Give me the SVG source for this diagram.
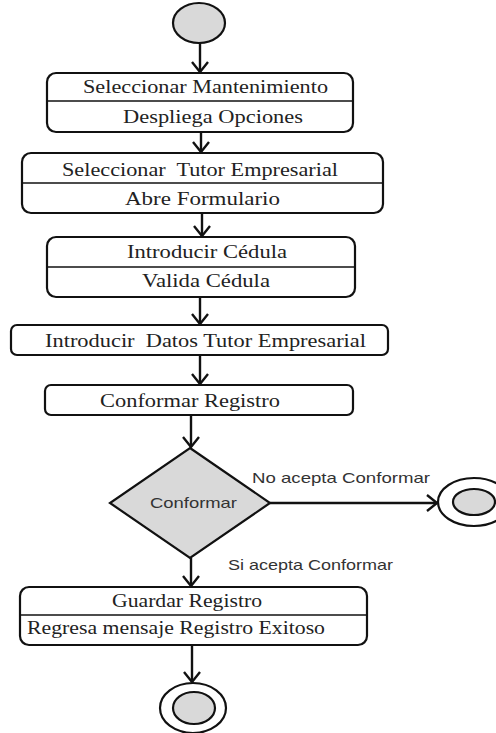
<svg xmlns="http://www.w3.org/2000/svg" width="496" height="733" viewBox="0 0 496 733">
  <style>
    .box { fill: #ffffff; stroke: #111111; stroke-width: 2.2; }
    .div { stroke: #111111; stroke-width: 1.6; }
    .lbl { font-family: "Liberation Serif", "Times New Roman", serif; font-size: 18px; fill: #222222; text-anchor: start; white-space: pre; }
    .sans { font-family: "Liberation Sans", Arial, sans-serif; font-size: 14.5px; fill: #333333; white-space: pre; }
    .edge { fill: none; stroke: #111111; stroke-width: 2.4; }
    .state { fill: #d9d9d9; stroke: #111111; stroke-width: 2.2; }
    .ring { fill: #ffffff; stroke: #111111; stroke-width: 2.2; }
  </style>
  <defs>
    <marker id="open-arrow" viewBox="0 0 12 18" refX="11" refY="9" markerWidth="12" markerHeight="18" markerUnits="userSpaceOnUse" orient="auto">
      <path d="M1,1 L11,9 L1,17" fill="none" stroke="#111111" stroke-width="2.4"/>
    </marker>
  </defs>
  <rect width="496" height="733" fill="#ffffff"/>

  <!-- initial state -->
  <g id="start">
    <ellipse class="state" cx="199" cy="23" rx="26" ry="20"/>
  </g>

  <g id="seleccionar-mantenimiento">
    <rect class="box" x="47" y="73" width="306" height="59" rx="9"/>
    <line class="div" x1="47" y1="101" x2="353" y2="101"/>
    <text class="lbl" x="83" y="93" textLength="245" lengthAdjust="spacingAndGlyphs">Seleccionar Mantenimiento</text>
    <text class="lbl" x="123" y="123" textLength="180" lengthAdjust="spacingAndGlyphs">Despliega Opciones</text>
  </g>

  <g id="seleccionar-tutor">
    <rect class="box" x="22" y="153" width="361" height="60" rx="9"/>
    <line class="div" x1="22" y1="183" x2="383" y2="183"/>
    <text class="lbl" x="62" y="176" textLength="276" lengthAdjust="spacingAndGlyphs">Seleccionar  Tutor Empresarial</text>
    <text class="lbl" x="125" y="205" textLength="155" lengthAdjust="spacingAndGlyphs">Abre Formulario</text>
  </g>

  <g id="introducir-cedula">
    <rect class="box" x="47" y="237" width="308" height="60" rx="9"/>
    <line class="div" x1="47" y1="267" x2="355" y2="267"/>
    <text class="lbl" x="127" y="258" textLength="160" lengthAdjust="spacingAndGlyphs">Introducir Cédula</text>
    <text class="lbl" x="142" y="287" textLength="128" lengthAdjust="spacingAndGlyphs">Valida Cédula</text>
  </g>

  <g id="introducir-datos">
    <rect class="box" x="11" y="325" width="377" height="30" rx="6"/>
    <text class="lbl" x="45" y="347" textLength="321" lengthAdjust="spacingAndGlyphs">Introducir  Datos Tutor Empresarial</text>
  </g>

  <g id="conformar-registro">
    <rect class="box" x="45" y="385" width="308" height="30" rx="6"/>
    <text class="lbl" x="100" y="407" textLength="180" lengthAdjust="spacingAndGlyphs">Conformar Registro</text>
  </g>

  <g id="decision-conformar">
    <polygon class="state" points="190,448 270,503 190,558 110,503"/>
    <text class="sans" x="150" y="508" textLength="87" lengthAdjust="spacingAndGlyphs">Conformar</text>
  </g>

  <g id="guardar-registro">
    <rect class="box" x="20" y="587" width="347" height="58" rx="9"/>
    <line class="div" x1="20" y1="615" x2="367" y2="615"/>
    <text class="lbl" x="112" y="607" textLength="150" lengthAdjust="spacingAndGlyphs">Guardar Registro</text>
    <text class="lbl" x="27" y="634" textLength="298" lengthAdjust="spacingAndGlyphs">Regresa mensaje Registro Exitoso</text>
  </g>

  <!-- final states -->
  <g id="end-rechazo">
    <ellipse class="ring" cx="474" cy="502" rx="36" ry="24"/>
    <ellipse class="state" cx="474" cy="502" rx="21" ry="13"/>
  </g>

  <g id="end-exito">
    <ellipse class="ring" cx="193" cy="708" rx="33" ry="25"/>
    <ellipse class="state" cx="194" cy="708" rx="21" ry="16"/>
  </g>

  <!-- transitions -->
  <g id="connectors">
    <line class="edge" x1="200" y1="43" x2="200" y2="72" marker-end="url(#open-arrow)"/>
    <line class="edge" x1="201" y1="132" x2="201" y2="152" marker-end="url(#open-arrow)"/>
    <line class="edge" x1="202" y1="213" x2="202" y2="236" marker-end="url(#open-arrow)"/>
    <line class="edge" x1="200" y1="297" x2="200" y2="324" marker-end="url(#open-arrow)"/>
    <line class="edge" x1="200" y1="355" x2="200" y2="384" marker-end="url(#open-arrow)"/>
    <line class="edge" x1="191" y1="415" x2="191" y2="447" marker-end="url(#open-arrow)"/>
    <line class="edge" x1="270" y1="503" x2="437" y2="503" marker-end="url(#open-arrow)"/>
    <line class="edge" x1="191" y1="558" x2="191" y2="586" marker-end="url(#open-arrow)"/>
    <line class="edge" x1="192" y1="645" x2="192" y2="682" marker-end="url(#open-arrow)"/>
    <text class="sans" x="252" y="483" textLength="178" lengthAdjust="spacingAndGlyphs">No acepta Conformar</text>
    <text class="sans" x="228" y="570" textLength="165" lengthAdjust="spacingAndGlyphs">Si acepta Conformar</text>
  </g>
</svg>
